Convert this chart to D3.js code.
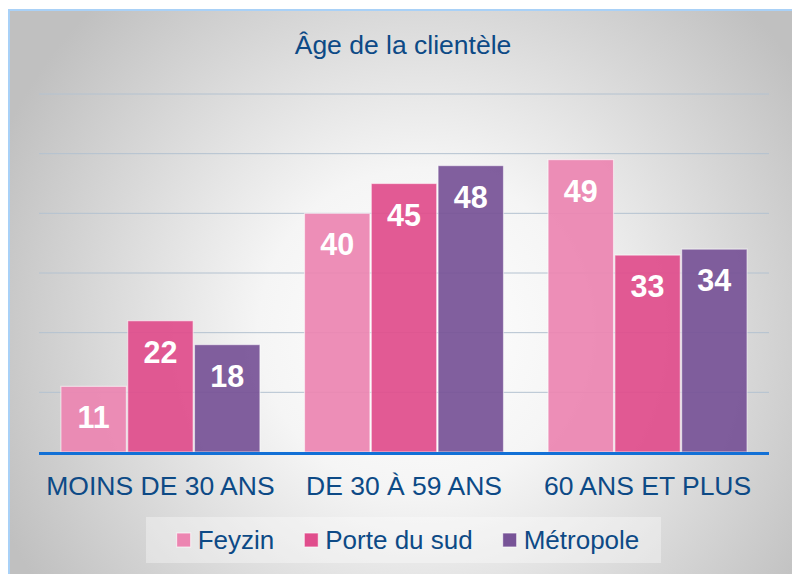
<!DOCTYPE html>
<html>
<head>
<meta charset="utf-8">
<script src="https://cdn.jsdelivr.net/npm/d3@7"></script>
<style>
  body { margin: 0; background: #fff; }
  svg { display: block; font-family: "Liberation Sans", Arial, sans-serif; }
</style>
</head>
<body>
<div class="container"></div>
<script>
// data
const categories = ['MOINS DE 30 ANS', 'DE 30 À 59 ANS', '60 ANS ET PLUS'];
const seriesNames = ['Feyzin', 'Porte du sud', 'Métropole'];
const feyzin = [11, 40, 49];
const porteDuSud = [22, 45, 33];
const metropole = [18, 48, 34];
const yTicks = [0, 10, 20, 30, 40, 50, 60];
const title = 'Âge de la clientèle';

const colors = ['#ec85b1', '#e04d8c', '#775397'];
const seriesValues = [feyzin, porteDuSud, metropole];

const data = categories.map((c, i) => ({
    cat: c,
    values: seriesNames.map((s, j) => ({ name: s, value: seriesValues[j][i], idx: j }))
}));

// initial setup
const w = 792;
const h = 574;
const [plotLeft, plotRight, plotTop, plotBottom] = [39, 769, 94, 452];

const svg = d3.select('.container')
              .append('svg')
              .attr('width', w)
              .attr('height', h);

// background gradient
const defs = svg.append('defs');
const grad = defs.append('radialGradient')
                 .attr('id', 'bg')
                 .attr('gradientUnits', 'userSpaceOnUse')
                 .attr('cx', 420).attr('cy', 330).attr('r', 460);
grad.append('stop').attr('offset', '0%').attr('stop-color', '#ffffff');
grad.append('stop').attr('offset', '35%').attr('stop-color', '#f5f5f5');
grad.append('stop').attr('offset', '100%').attr('stop-color', '#c0c0c0');

svg.append('rect')
   .attr('x', 9).attr('y', 10)
   .attr('width', 800).attr('height', 580)
   .attr('fill', 'url(#bg)')
   .attr('stroke', '#a9d1f7')
   .attr('stroke-width', 2);

// scales
const x = d3.scaleBand()
            .domain(categories)
            .range([plotLeft, plotRight])
            .paddingInner(0.183)
            .paddingOuter(0.09);

const xInner = d3.scaleBand()
                 .domain(seriesNames)
                 .range([0, x.bandwidth()])
                 .paddingInner(0.02);

const y = d3.scaleLinear()
            .domain([0, 60])
            .range([plotBottom, plotTop]);

// gridlines
svg.append('g')
   .selectAll('line')
   .data(yTicks.slice(1))
   .join('line')
   .attr('x1', plotLeft).attr('x2', plotRight)
   .attr('y1', d => y(d)).attr('y2', d => y(d))
   .attr('stroke', '#b4c2d0')
   .attr('stroke-width', 1);

// title
svg.append('text')
   .attr('x', 403).attr('y', 54)
   .attr('text-anchor', 'middle')
   .attr('font-size', 26.5)
   .attr('fill', '#0d4a86')
   .text(title);

// bars
const groups = svg.append('g')
                  .selectAll('g')
                  .data(data)
                  .join('g')
                  .attr('transform', d => `translate(${x(d.cat)}, 0)`);

groups.selectAll('rect')
      .data(d => d.values)
      .join('rect')
      .attr('x', d => xInner(d.name))
      .attr('width', xInner.bandwidth())
      .attr('y', d => y(d.value))
      .attr('height', d => plotBottom - y(d.value))
      .attr('fill', d => colors[d.idx])
      .attr('fill-opacity', 0.93)
      .attr('stroke', 'rgba(255,255,255,0.55)')
      .attr('stroke-width', 1.2);

groups.selectAll('text')
      .data(d => d.values)
      .join('text')
      .attr('x', d => xInner(d.name) + xInner.bandwidth() / 2)
      .attr('y', d => y(d.value) + 42)
      .attr('text-anchor', 'middle')
      .attr('font-size', 30.5)
      .attr('font-weight', 'bold')
      .attr('fill', '#ffffff')
      .text(d => d.value);

// baseline / x axis
const xAxis = d3.axisBottom(x).tickSize(0).tickPadding(0);
const xGroup = svg.append('g')
                  .attr('transform', `translate(0, ${plotBottom})`)
                  .call(xAxis);
xGroup.select('.domain')
      .attr('d', `M${plotLeft},0H${plotRight}`)
      .attr('stroke', '#1270d6')
      .attr('stroke-width', 3)
      .attr('transform', 'translate(0,1.5)');
xGroup.selectAll('text')
      .attr('font-size', 26.5)
      .attr('font-family', '"Liberation Sans", Arial, sans-serif')
      .attr('fill', '#0d4a86')
      .attr('dy', null)
      .attr('y', 43);

// legend
svg.append('rect')
   .attr('x', 146).attr('y', 517)
   .attr('width', 515).attr('height', 46)
   .attr('fill', '#ffffff')
   .attr('fill-opacity', 0.35);

const legend = svg.append('g');
const items = legend.selectAll('g')
                    .data(seriesNames)
                    .join('g');
items.append('rect')
     .attr('y', 533)
     .attr('width', 14).attr('height', 14)
     .attr('fill', (d, i) => colors[i])
     .attr('stroke', 'rgba(255,255,255,0.7)')
     .attr('stroke-width', 1);
items.append('text')
     .attr('x', 21).attr('y', 549)
     .attr('font-size', 26)
     .attr('fill', '#0d4a86')
     .text(d => d);

let cursor = 0;
const offsets = [];
items.each(function() {
    offsets.push(cursor);
    const tw = d3.select(this).select('text').node().getComputedTextLength();
    cursor += 21 + tw + 30;
});
const total = cursor - 30;
const start = 408 - total / 2;
items.attr('transform', (d, i) => `translate(${start + offsets[i]}, 0)`);
</script>
</body>
</html>
